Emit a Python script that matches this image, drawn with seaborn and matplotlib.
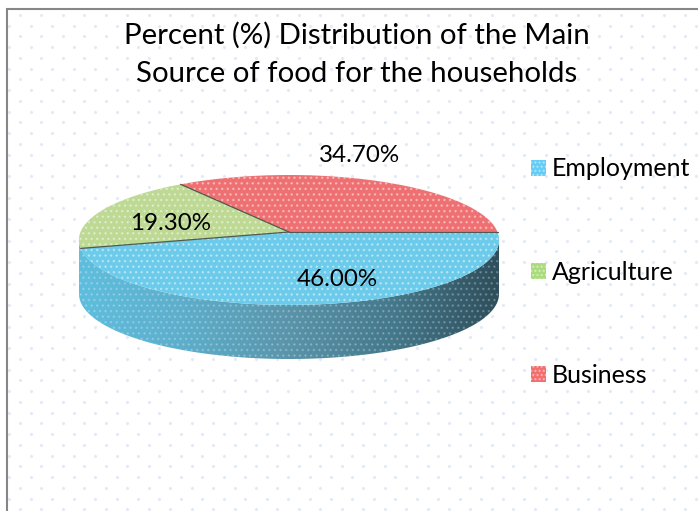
import numpy as np
import matplotlib
matplotlib.use("Agg")
import matplotlib.pyplot as plt
import seaborn as sns
from matplotlib.colors import LinearSegmentedColormap
from matplotlib.patches import Patch, Polygon
from matplotlib.transforms import Transform, Affine2D
from matplotlib.path import Path

categories = ["Employment", "Agriculture", "Business"]
shares = [46.0, 19.3, 34.7]
title_lines = ["Percent (%) Distribution of the Main", "Source of food for the households"]

sns.set_theme(style="white")
plt.rcParams["font.family"] = ["Lato", "DejaVu Sans"]
surface_colors = sns.color_palette(["#6CCBEA", "#BDD994", "#EE7072"])
legend_colors = sns.color_palette(["#62CDF8", "#A9DC7A", "#F46E6E"])
wall_cmap = LinearSegmentedColormap.from_list(
    "wall", ["#5FBEDE", "#5DAECB", "#5A94AA", "#44788B", "#2E4E5B"])

W, H = 698, 511
CX, CY = 289.0, 232.0      # disc centre on the canvas
RX, AY, K = 208.5, 64.0, 0.123  # perspective of the tilted disc
DEPTH = 54.0


class TiltedDisc(Transform):
    """Projects the flat unit disc of the pie onto the tilted top surface."""
    input_dims = output_dims = 2

    def transform_non_affine(self, values):
        v = np.asarray(values, dtype=float)
        d = 1 + K * v[:, 1]
        return np.column_stack([CX + RX * v[:, 0] / d, CY - AY * v[:, 1] / d])

    def transform_path_non_affine(self, path):
        # Flatten at a fine scale so the arc stays smooth after projection
        flat = path.cleaned(transform=Affine2D().scale(2000), curves=False)
        return Path(self.transform_non_affine(flat.vertices / 2000), flat.codes)


fig = plt.figure(figsize=(W / 100, H / 100), dpi=100, facecolor="white")
ax = fig.add_axes([0, 0, 1, 1])

# Speckled backdrop of the chart area
col, row = np.meshgrid(np.arange(0, 34), np.arange(0, 47))
dot_x = 20 + 21.45 * col - 10.72 * (row % 2)
dot_y = 15 + 10.75 * row
ax.scatter(dot_x, dot_y, s=5, color="#E2EAF8", linewidths=0, zorder=0)

# Chart frame: only its left and top edges fall on the canvas
ax.plot([7, 7, W + 5], [H + 5, 9, 9], color="#868686", lw=1.5, zorder=1,
        solid_joinstyle="miter")

# Side wall below the front rim of the disc
t = np.linspace(np.pi, 2 * np.pi, 200)
ell_x = CX + 210 * np.cos(t)
ell_y = 240 - 65 * np.sin(t)
wall_xy = np.r_[np.c_[ell_x, ell_y], np.c_[ell_x[::-1], ell_y[::-1] + DEPTH]]
wall = Polygon(wall_xy, closed=True, facecolor="none", edgecolor="none", zorder=2)
ax.add_patch(wall)
img = ax.imshow(np.linspace(0, 1, 256)[None, :], extent=(79, 499, 370, 230),
                cmap=wall_cmap, aspect="auto", zorder=2)
img.set_clip_path(wall)
ax.add_patch(Polygon(wall_xy, closed=True, facecolor="none", edgecolor=(1, 1, 1, 0.22),
                     hatch="...", lw=0, zorder=2.5))

# The pie itself, drawn flat and then projected
wedges, _ = ax.pie(shares, colors=surface_colors, startangle=0, counterclock=False,
                   radius=1.0, center=(0, 0), hatch="...",
                   wedgeprops=dict(edgecolor=(1, 1, 1, 0.4), linewidth=0))
tilt = TiltedDisc() + ax.transData
for w in wedges:
    w.set_transform(tilt)
    w.set_zorder(3)
    w.set_clip_on(False)

# Dark seams along the slice boundaries
for w in wedges:
    a = np.deg2rad(w.theta1)
    ax.plot([0, np.cos(a)], [0, np.sin(a)], color="#4F5A50", lw=0.9, zorder=4,
            transform=tilt, clip_on=False)

ax.set_aspect("auto")
ax.set_xlim(0, W)
ax.set_ylim(H, 0)
ax.set_axis_off()

# Slice labels
label_pos = [(337, 280), (171, 224), (360, 156)]
for v, (lx, ly) in zip(shares, label_pos):
    ax.text(lx, ly, f"{v:.2f}%", ha="center", va="center", fontsize=17.4, color="black", zorder=5)

# Title
for line, ty in zip(title_lines, (35, 74)):
    ax.text(357, ty, line, ha="center", va="center", fontsize=21.2, color="black", zorder=5)

# Legend
handles = [Patch(facecolor=c, edgecolor=(1, 1, 1, 0.45), hatch="....", lw=0) for c in legend_colors]
ax.legend(handles, categories, loc="upper left", bbox_to_anchor=(531 / W, 1 - 157.5 / H),
          bbox_transform=fig.transFigure, frameon=False, fontsize=18, labelcolor="black",
          handlelength=0.6, handleheight=0.6, handletextpad=0.24, labelspacing=3.21,
          borderpad=0, borderaxespad=0)

fig.savefig("out.png", dpi=100)
